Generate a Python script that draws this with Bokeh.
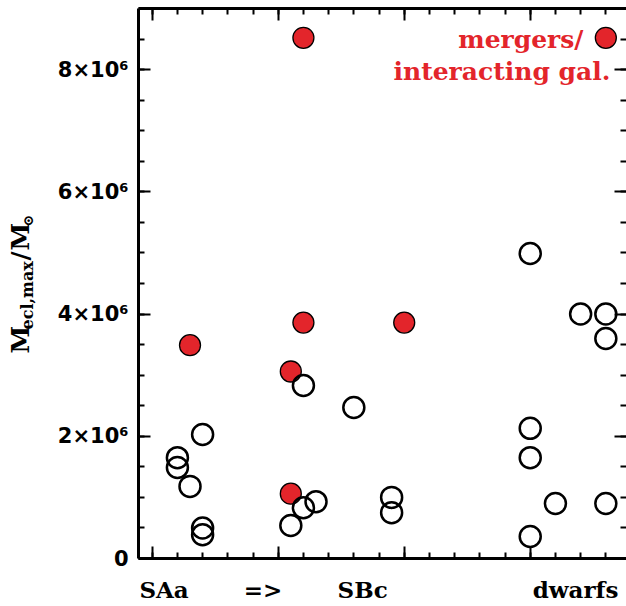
import math
from bokeh.plotting import figure
from bokeh.layouts import row
from bokeh.models import FixedTicker, LinearAxis, Label, Range1d
from bokeh.core.properties import value
from bokeh.embed import file_html
from bokeh.resources import INLINE

# ---------------- data ----------------
# x: position along the galaxy-type sequence (SAa => SBc ... dwarfs)
open_x = [1, 1, 1.5, 2, 2, 2,
          5.5, 6, 6, 6.5, 8, 9.5, 9.5,
          15, 15, 15, 15, 16, 17, 18, 18, 18]
open_y = [1.65e6, 1.49e6, 1.18e6, 2.03e6, 0.50e6, 0.39e6,
          0.54e6, 0.83e6, 2.83e6, 0.93e6, 2.47e6, 1.00e6, 0.75e6,
          4.99e6, 2.13e6, 1.65e6, 0.36e6, 0.90e6, 4.00e6, 4.00e6, 3.60e6, 0.90e6]
merger_x = [1.5, 5.5, 5.5, 6, 6, 10, 18]
merger_y = [3.49e6, 3.06e6, 1.06e6, 3.86e6, 8.52e6, 3.86e6, 8.52e6]

y_ticks = [0, 2000000, 4000000, 6000000, 8000000]
y_tick_labels = ["0", "2×10⁶", "4×10⁶", "6×10⁶", "8×10⁶"]
y_minor_ticks = [i * 500000 for i in range(19)]
x_major_ticks = [0, 5, 10, 15]
x_minor_ticks = list(range(0, 19))
category_pos = [0.47, 4.40, 8.35, 16.8]
category_labels = ["SAa", "=>", "SBc", "dwarfs"]

RED = "#e3252b"
X0, X1 = -0.544, 18.82
Y0, Y1 = 0, 9e6
W, H = 626, 606
TW = 48                      # width of the strip holding the rotated y title
FL, FR, FT, FB = 138, 626, 8, 558


def sx(px):
    return X0 + (px - FL) / (FR - FL) * (X1 - X0)


def sy(py):
    return Y0 + (FB - py) / (FB - FT) * (Y1 - Y0)


p = figure(width=W - TW, height=H, output_backend="svg", toolbar_location=None,
           x_range=Range1d(X0, X1), y_range=Range1d(Y0, Y1),
           min_border_left=FL - TW, min_border_right=0, min_border_top=FT,
           min_border_bottom=H - FB)
p.outline_line_color = None
p.grid.visible = False
p.background_fill_color = "white"
p.border_fill_color = "white"


def style_ticks(ax, major_in, minor_in):
    ax.major_tick_in = major_in
    ax.major_tick_out = 0
    ax.minor_tick_in = minor_in
    ax.minor_tick_out = 0
    ax.major_tick_line_width = 2
    ax.minor_tick_line_width = 2
    ax.major_tick_line_color = "black"
    ax.minor_tick_line_color = "black"
    ax.axis_line_width = 3
    ax.axis_line_color = "black"


def hide_labels(ax):
    ax.major_label_text_font_size = "1px"
    ax.major_label_text_color = None
    ax.major_label_standoff = 0
    ax.axis_label = None


# left axis
ya = p.yaxis[0]
ya.ticker = FixedTicker(ticks=y_ticks, minor_ticks=y_minor_ticks)
ya.major_label_overrides = {t: l for t, l in zip(y_ticks, y_tick_labels)}
style_ticks(ya, 12, 6)
ya.major_label_text_font = "DejaVu Sans"
ya.major_label_text_font_style = "bold"
ya.major_label_text_font_size = "21px"
ya.major_label_text_color = "black"
ya.major_label_standoff = 10

# right axis (ticks only)
ra = LinearAxis(ticker=FixedTicker(ticks=y_ticks, minor_ticks=y_minor_ticks))
style_ticks(ra, 12, 6)
hide_labels(ra)
ra.axis_line_color = None
p.add_layout(ra, "right")

# bottom axis (ticks only)
xa = p.xaxis[0]
xa.ticker = FixedTicker(ticks=x_major_ticks, minor_ticks=x_minor_ticks)
style_ticks(xa, 12, 6)
hide_labels(xa)

# bottom category labels
ca = LinearAxis(ticker=FixedTicker(ticks=category_pos, minor_ticks=[]))
ca.major_label_overrides = {t: l for t, l in zip(category_pos, category_labels)}
ca.axis_line_color = None
ca.major_tick_in = 0
ca.major_tick_out = 0
ca.minor_tick_in = 0
ca.minor_tick_out = 0
ca.major_label_standoff = 17
ca.major_label_text_font = "DejaVu Serif"
ca.major_label_text_font_style = "bold"
ca.major_label_text_font_size = "23px"
ca.major_label_text_color = "black"
p.add_layout(ca, "below")

# top axis (ticks only)
ta = LinearAxis(ticker=FixedTicker(ticks=x_major_ticks, minor_ticks=x_minor_ticks))
style_ticks(ta, 12, 6)
hide_labels(ta)
p.add_layout(ta, "above")

# points
p.scatter(merger_x, merger_y, marker="circle", size=21, fill_color=RED,
          line_color="black", line_width=1.3)
p.scatter(open_x, open_y, marker="circle", size=21, fill_color=None,
          line_color="black", line_width=2.5)

# red annotation text
for txt, px, py in [("mergers/", 583, 39), ("interacting gal.", 610, 71)]:
    p.add_layout(Label(x=sx(px), y=sy(py), text=txt, text_align="right",
                       text_baseline="alphabetic", text_color=RED,
                       text_font="DejaVu Serif", text_font_style="bold",
                       text_font_size="25px"))

# ---- strip with rotated y-axis title: M_ecl,max / M_sun ----
t = figure(width=TW, height=H, output_backend="svg", toolbar_location=None,
           x_range=Range1d(0, TW), y_range=Range1d(Y0, Y1),
           x_axis_type=None, y_axis_type=None, min_border_left=0,
           min_border_right=0, min_border_top=FT, min_border_bottom=H - FB)
t.outline_line_color = None
t.grid.visible = False
t.border_fill_color = "white"
t.background_fill_color = "white"

big = [("M", 20, 353), ("/", 20, 260), ("M", 20, 250)]
small = [("ecl,max", 27, 329, "16px"), ("⊙", 27, 226, "14px")]
t.text(x=[b[1] for b in big], y=[sy(b[2]) for b in big], text=[b[0] for b in big],
       angle=math.pi / 2, text_align="left", text_baseline="alphabetic",
       text_font=value("DejaVu Serif"), text_font_style="bold",
       text_font_size="25px", text_color="black")
for txt, px, py, fs in small:
    t.text(x=[px], y=[sy(py)], text=[txt], angle=math.pi / 2,
           text_align="left", text_baseline="alphabetic",
           text_font=value("DejaVu Serif"), text_font_style="bold",
           text_font_size=fs, text_color="black")

layout = row(t, p, spacing=0)
open("out.html", "w").write(file_html(layout, INLINE))
